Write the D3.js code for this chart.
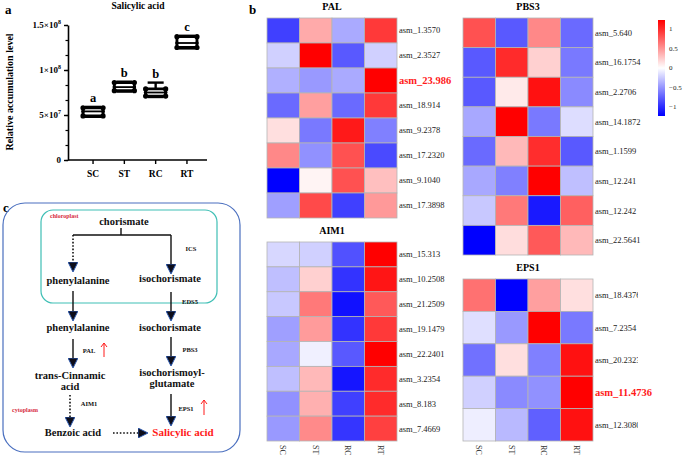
<!DOCTYPE html>
<html>
<head>
<meta charset="utf-8">
<script src="https://cdn.jsdelivr.net/npm/d3@7"></script>
<style>
  body { margin: 0; background: #fff; }
  svg { display: block; }
  svg text { font-family: "Liberation Serif", "Times New Roman", serif !important; }
</style>
</head>
<body>
<div id="chart"></div>
<script>
// ---- panel a data ----
const groups = ['SC', 'ST', 'RC', 'RT'];
const boxMin = [4.8e7, 7.6e7, 7.0e7, 1.24e8];
const boxQ1 = [4.9e7, 7.7e7, 7.1e7, 1.25e8];
const boxMed = [5.4e7, 8.1e7, 7.5e7, 1.30e8];
const boxQ3 = [5.8e7, 8.6e7, 7.9e7, 1.37e8];
const boxMax = [5.9e7, 8.7e7, 8.6e7, 1.38e8];
const sigLetters = ['a', 'b', 'b', 'c'];
const yTicks = [0, 5e7, 1e8, 1.5e8];
const yTickBase = ['0', '5×10', '1×10', '1.5×10'];
const yTickExp = ['', '7', '8', '8'];

// ---- panel b data (row-scaled values, columns SC ST RC RT) ----
const palGenes = ['asm_1.3570', 'asm_2.3527', 'asm_23.986', 'asm_18.914', 'asm_9.2378', 'asm_17.2320', 'asm_9.1040', 'asm_17.3898'];
const palValues = [
  [-0.90, 0.40, -0.40, 0.93],
  [-0.22, 1.20, -0.78, -0.22],
  [-0.37, -0.48, -0.40, 1.20],
  [-0.70, 0.45, -0.70, 0.93],
  [0.15, -0.63, 1.08, -0.60],
  [0.56, -0.52, 0.82, -0.85],
  [-1.20, 0.05, 0.82, 0.30],
  [-0.45, 0.85, -0.90, 0.48]
];
const pbs3Genes = ['asm_5.640', 'asm_16.1754', 'asm_2.2706', 'asm_14.1872', 'asm_1.1599', 'asm_12.241', 'asm_12.242', 'asm_22.5641'];
const pbs3Values = [
  [0.82, -0.78, 0.56, -0.70],
  [-0.78, 1.00, 0.22, -0.63],
  [-0.78, 0.10, 1.12, -0.55],
  [-0.41, 1.20, -0.63, -0.16],
  [-0.70, 0.33, 0.99, -0.78],
  [-0.41, -0.60, 1.20, -0.30],
  [-0.26, 0.63, -1.08, 0.75],
  [-1.20, 0.16, 0.78, 0.33]
];
const aim1Genes = ['asm_15.313', 'asm_10.2508', 'asm_21.2509', 'asm_19.1479', 'asm_22.2401', 'asm_3.2354', 'asm_8.183', 'asm_7.4669'];
const aim1Values = [
  [-0.19, -0.22, -0.82, 1.20],
  [-0.30, 0.22, -0.96, 1.10],
  [-0.26, 0.63, -1.12, 0.78],
  [-0.45, 0.47, -0.96, 0.93],
  [-0.41, -0.07, -0.78, 1.20],
  [-0.30, 0.33, -1.10, 1.00],
  [-0.52, 0.37, -0.90, 1.00],
  [-0.48, 0.55, -0.95, 0.90]
];
const eps1Genes = ['asm_18.4376', 'asm_7.2354', 'asm_20.2323', 'asm_11.4736', 'asm_12.3080'];
const eps1Values = [
  [0.67, -1.20, 0.45, 0.15],
  [-0.15, -0.48, 1.20, -0.63],
  [-0.67, 0.15, -0.60, 1.12],
  [-0.22, -0.55, -0.52, 1.20],
  [-0.08, -0.33, -0.75, 1.12]
];
const highlightGenes = ['asm_23.986', 'asm_11.4736'];
const legendTicks = [-1, -0.5, 0, 0.5, 1];

const W = 685, H = 455;
const svg = d3.select('#chart').append('svg')
  .attr('width', W).attr('height', H)
  .attr('viewBox', `0 0 ${W} ${H}`)
  .attr('font-family', '"Liberation Serif", serif');

const defs = svg.append('defs');

// panel letters
[['a', 5, 14], ['b', 249, 14], ['c', 3, 212]].forEach(([t, x, y]) => {
  svg.append('text').attr('x', x).attr('y', y).text(t)
    .attr('font-size', 13).attr('font-weight', 'bold');
});

// ================= panel a =================
const ga = svg.append('g');
const y = d3.scaleLinear().domain([0, 1.5e8]).range([160, 25]);
const x = d3.scaleBand().domain(groups).range([68, 212]).paddingInner(0.36).paddingOuter(0.48);

ga.append('text').attr('x', 138).attr('y', 9).attr('text-anchor', 'middle')
  .attr('font-size', 9.5).attr('font-weight', 'bold').text('Salicylic acid');

// minor ticks
const minor = d3.range(0, 1.5e8 + 1, 1.5e8 / 9);
ga.append('g').attr('transform', 'translate(68,0)')
  .call(d3.axisLeft(y).tickValues(minor).tickSize(2.5).tickFormat(''))
  .call(g => g.selectAll('line').attr('stroke-width', 1.2))
  .call(g => g.select('.domain').remove());

const yAxis = ga.append('g').attr('transform', 'translate(68,0)')
  .call(d3.axisLeft(y).tickValues(yTicks).tickSize(4).tickSizeOuter(0).tickFormat(''));
yAxis.selectAll('line').attr('stroke-width', 1.4);
yAxis.select('.domain').attr('stroke-width', 1.6);

yTicks.forEach((v, i) => {
  const t = ga.append('text').attr('x', 61).attr('y', y(v) + 3)
    .attr('text-anchor', 'end').attr('font-size', 9).attr('font-weight', 'bold');
  t.append('tspan').text(yTickBase[i]);
  if (yTickExp[i]) t.append('tspan').attr('dy', -4).attr('font-size', 6).text(yTickExp[i]);
});

const xAxis = ga.append('g').attr('transform', 'translate(0,160)')
  .call(d3.axisBottom(x).tickSize(4).tickSizeOuter(0));
xAxis.select('.domain').attr('d', 'M68,0H207').attr('stroke-width', 1.6);
xAxis.selectAll('line').attr('stroke-width', 1.4);
xAxis.selectAll('text').attr('font-size', 9.5).attr('font-weight', 'bold').attr('dy', '1.1em');

ga.append('text').attr('transform', 'translate(13,92) rotate(-90)')
  .attr('text-anchor', 'middle').attr('font-size', 10).attr('font-weight', 'bold')
  .text('Relative accumulation level');

groups.forEach((gname, i) => {
  const cx = x(gname) + x.bandwidth() / 2;
  const bw = x.bandwidth();
  const b = ga.append('g');
  b.append('line').attr('x1', cx).attr('x2', cx).attr('y1', y(boxMax[i])).attr('y2', y(boxQ3[i]))
    .attr('stroke', '#000').attr('stroke-width', 2.4);
  b.append('line').attr('x1', cx).attr('x2', cx).attr('y1', y(boxQ1[i])).attr('y2', y(boxMin[i]))
    .attr('stroke', '#000').attr('stroke-width', 2.4);
  [boxMax[i], boxMin[i]].forEach(v => b.append('line')
    .attr('x1', cx - bw / 2 + 2).attr('x2', cx + bw / 2 - 2).attr('y1', y(v)).attr('y2', y(v))
    .attr('stroke', '#000').attr('stroke-width', 2.4));
  b.append('rect').attr('x', x(gname)).attr('y', y(boxQ3[i]))
    .attr('width', bw).attr('height', y(boxQ1[i]) - y(boxQ3[i]))
    .attr('fill', '#fff').attr('stroke', '#000').attr('stroke-width', 2.8).attr('rx', 1.5);
  b.append('line').attr('x1', x(gname)).attr('x2', x(gname) + bw)
    .attr('y1', y(boxMed[i])).attr('y2', y(boxMed[i])).attr('stroke', '#000').attr('stroke-width', 1.8);
  [boxQ1[i], boxMed[i], boxQ3[i]].forEach((v, k) => {
    [x(gname), x(gname) + bw].forEach(px => b.append('circle')
      .attr('cx', px).attr('cy', y(v)).attr('r', k === 1 ? 1.8 : 2.6).attr('fill', '#000'));
  });
  ga.append('text').attr('x', cx).attr('y', y(boxMax[i]) - 5).attr('text-anchor', 'middle')
    .attr('font-size', 12.5).attr('font-weight', 'bold').text(sigLetters[i]);
});

// ================= panel c =================
const gc = svg.append('g');
gc.append('rect').attr('x', 3).attr('y', 203).attr('width', 237).attr('height', 249)
  .attr('rx', 22).attr('fill', 'none').attr('stroke', '#4a6fbf').attr('stroke-width', 1.2);
gc.append('rect').attr('x', 41).attr('y', 210).attr('width', 176).attr('height', 93)
  .attr('rx', 12).attr('fill', 'none').attr('stroke', '#3fbfb5').attr('stroke-width', 1.2);

defs.append('marker').attr('id', 'tri').attr('viewBox', '0 0 10 10')
  .attr('refX', 9).attr('refY', 5).attr('markerWidth', 10).attr('markerHeight', 10)
  .attr('markerUnits', 'userSpaceOnUse').attr('orient', 'auto')
  .append('path').attr('d', 'M0,0L10,5L0,10Z').attr('fill', '#0d0d1a')
  .attr('stroke', '#2f5bb0').attr('stroke-width', 1);

const bold = (t, px, py, fs, color, anchor) => gc.append('text')
  .attr('x', px).attr('y', py).attr('text-anchor', anchor || 'middle')
  .attr('font-size', fs).attr('font-weight', 'bold').attr('fill', color || '#111').text(t);

bold('chloroplast', 50, 218, 6, '#d6283c', 'start');
bold('chorismate', 124, 225, 10.5);
bold('ICS', 191, 251, 6.5);
bold('phenylalanine', 78, 284, 10.5);
bold('isochorismate', 170, 282, 10.5);
bold('EDS5', 190, 304, 6.5);
bold('phenylalanine', 78, 331, 10.5);
bold('isochorismate', 170, 331, 10.5);
bold('PAL', 89, 353, 6.5);
bold('PBS3', 190, 352, 6.5);
bold('trans-Cinnamic', 70, 379, 10.5);
bold('acid', 70, 390, 10.5);
bold('isochorismoyl-', 172, 376, 10.5);
bold('glutamate', 172, 387, 10.5);
bold('AIM1', 89, 406, 6.5);
bold('cytoplasm', 12, 412, 6, '#d6283c', 'start');
bold('EPS1', 186, 411, 6.5);
bold('Benzoic acid', 73, 436, 10.5);
bold('Salicylic acid', 183, 436, 11, '#ff1a1a');

const line = (pts, dashed, arrow) => gc.append('path')
  .attr('d', d3.line()(pts)).attr('fill', 'none').attr('stroke', '#111')
  .attr('stroke-width', dashed ? 1.6 : 1.4)
  .attr('stroke-dasharray', dashed ? '1.6,1.8' : null)
  .attr('marker-end', arrow ? 'url(#tri)' : null);

line([[121, 228], [121, 235]]);
line([[73, 235], [171, 235]]);
line([[73, 235], [73, 271]], true, true);
line([[171, 235], [171, 273]], false, true);
line([[73, 291], [73, 320]], false, true);
line([[171, 292], [171, 320]], false, true);
line([[73, 339], [73, 367]], false, true);
line([[171, 337], [171, 365]], false, true);
line([[70, 395], [70, 426]], true, true);
line([[171, 394], [171, 425]], false, true);
line([[113, 433], [147, 433]], true, true);

// red up arrows
[[104, 357, 343], [204, 415, 400]].forEach(([ax, yb, yt]) => {
  gc.append('path').attr('d', `M${ax},${yb}V${yt}M${ax - 3},${yt + 4}L${ax},${yt}L${ax + 3},${yt + 4}`)
    .attr('fill', 'none').attr('stroke', '#ff1a1a').attr('stroke-width', 1);
});

// ================= panel b =================
const color = d3.scaleLinear().domain([-1.2, 0, 1.2])
  .range(['#0000ff', '#ffffff', '#ff0000']).clamp(true);

defs.append('clipPath').attr('id', 'labclip')
  .append('rect').attr('x', 590).attr('y', 270).attr('width', 48).attr('height', 180);

function heatmap(title, genes, values, x0, y0, w, h, showCols, clip) {
  const g = svg.append('g');
  const hx = d3.scaleBand().domain(groups).range([x0, x0 + w]);
  const hy = d3.scaleBand().domain(genes).range([y0, y0 + h]);
  g.append('text').attr('x', x0 + w / 2).attr('y', y0 - 8).attr('text-anchor', 'middle')
    .attr('font-size', 10).attr('font-weight', 'bold').text(title);
  genes.forEach((gene, r) => {
    groups.forEach((grp, c) => {
      g.append('rect').attr('x', hx(grp)).attr('y', hy(gene))
        .attr('width', hx.bandwidth()).attr('height', hy.bandwidth())
        .attr('fill', color(values[r][c])).attr('stroke', '#b4b4b4').attr('stroke-width', 0.8);
    });
    const hi = highlightGenes.includes(gene);
    const t = g.append('text').attr('x', x0 + w + 2).attr('y', hy(gene) + hy.bandwidth() / 2)
      .attr('dy', '0.35em').attr('font-size', hi ? 10.5 : 8.5)
      .attr('font-weight', hi ? 'bold' : 'normal').attr('fill', hi ? '#ff1a1a' : '#222')
      .text(gene);
    if (clip && !hi) t.attr('clip-path', 'url(#labclip)');
  });
  if (showCols) {
    groups.forEach(grp => {
      g.append('text').attr('transform', `translate(${hx(grp) + hx.bandwidth() / 2 - 3},${y0 + h + 4}) rotate(90)`)
        .attr('font-size', 8).attr('fill', '#333').text(grp);
    });
  }
}

heatmap('PAL', palGenes, palValues, 267, 18, 130, 200, false, false);
heatmap('PBS3', pbs3Genes, pbs3Values, 463, 18, 130, 237, false, false);
heatmap('AIM1', aim1Genes, aim1Values, 267, 242, 130, 199, true, false);
heatmap('EPS1', eps1Genes, eps1Values, 463, 279, 130, 162, true, true);

// colour legend
const grad = defs.append('linearGradient').attr('id', 'cbar')
  .attr('x1', 0).attr('y1', 1).attr('x2', 0).attr('y2', 0);
d3.range(0, 1.0001, 0.1).forEach(o => grad.append('stop')
  .attr('offset', o).attr('stop-color', color(-1.23 + o * 2.46)));
const ly = d3.scaleLinear().domain([-1.23, 1.23]).range([116, 20]);
svg.append('rect').attr('x', 658).attr('y', 20).attr('width', 7).attr('height', 96)
  .attr('fill', 'url(#cbar)');
legendTicks.forEach(v => svg.append('text').attr('x', 669).attr('y', ly(v)).attr('dy', '0.35em')
  .attr('font-size', 7).attr('fill', '#222').text(v < 0 ? '−' + Math.abs(v) : String(v)));
</script>
</body>
</html>
